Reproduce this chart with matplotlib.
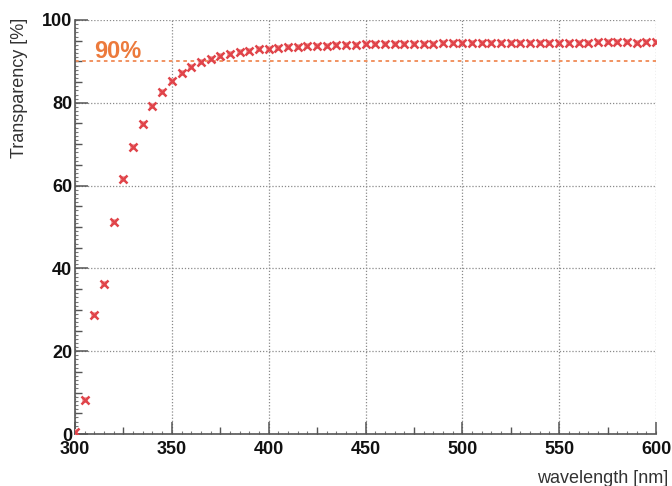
import matplotlib
matplotlib.use("Agg")
import matplotlib.pyplot as plt
from matplotlib.ticker import MultipleLocator

plt.rcParams['font.family'] = ['Liberation Sans', 'DejaVu Sans']

wavelength = list(range(300, 601, 5))
transparency = [
    0.5, 8.1, 28.7, 36.2, 51.2, 61.6, 69.4, 74.8, 79.2, 82.6,
    85.2, 87.3, 88.6, 89.8, 90.6, 91.2, 91.8, 92.2, 92.6, 92.9,
    93.1, 93.3, 93.4, 93.5, 93.7, 93.8, 93.8, 93.9, 93.9, 94.0,
    94.1, 94.1, 94.2, 94.2, 94.2, 94.3, 94.3, 94.3, 94.4, 94.4,
    94.4, 94.4, 94.4, 94.4, 94.5, 94.5, 94.5, 94.5, 94.5, 94.5,
    94.5, 94.5, 94.5, 94.5, 94.6, 94.6, 94.6, 94.6, 94.5, 94.6,
    94.6,
]
threshold = 90
threshold_label = "90%"
x_ticks = [300, 350, 400, 450, 500, 550, 600]
y_ticks = [0, 20, 40, 60, 80, 100]

fig = plt.figure(figsize=(6.72, 4.86), dpi=100)
ax = fig.add_axes([75/672, 52/486, 581/672, 414/486])

ax.set_xlim(300, 600)
ax.set_ylim(0, 100)

ax.grid(True, which='major', color='#8a8a8a', linestyle=(0, (1, 1.5)), linewidth=0.9)
ax.set_axisbelow(True)

ax.axhline(threshold, color='#f08a55', linestyle=(0, (2.0, 2.0)), linewidth=1.3, zorder=2)
ax.text(310, threshold + 0.9, threshold_label, color='#ec7a3c', fontsize=17,
        fontweight='bold', ha='left', va='baseline', zorder=3)

ax.plot(wavelength, transparency, linestyle='none', marker='s', markersize=5,
        color='#f4b0b0', markeredgewidth=0, zorder=3)
ax.plot(wavelength, transparency, linestyle='none', marker='x', markersize=5.5,
        markeredgewidth=1.8, color='#e0444a', zorder=4)

ax.set_xticks(x_ticks)
ax.set_yticks(y_ticks)
ax.xaxis.set_minor_locator(MultipleLocator(25))
ax.yaxis.set_minor_locator(MultipleLocator(5))

for s in ['top', 'right']:
    ax.spines[s].set_visible(False)
for s in ['left', 'bottom']:
    ax.spines[s].set_color('#555555')
    ax.spines[s].set_linewidth(1.2)

ax.tick_params(axis='both', which='major', direction='in', length=9, width=1.1,
               color='#555555', labelsize=13, labelcolor='#111111')
ax.tick_params(axis='both', which='minor', direction='in', length=5, width=1.0,
               color='#555555')
ax.tick_params(axis='y', which='major', pad=2)
ax.tick_params(axis='x', which='major', pad=5)
for lab in ax.get_xticklabels() + ax.get_yticklabels():
    lab.set_fontweight('bold')

# fine ticks along the axes
sy = ax.secondary_yaxis('left')
sy.set_yticks([])
sy.yaxis.set_minor_locator(MultipleLocator(1))
sy.tick_params(which='minor', direction='in', length=2.5, width=0.8, color='#777777')
sy.spines['left'].set_visible(False)
sx = ax.secondary_xaxis('bottom')
sx.set_xticks([])
sx.xaxis.set_minor_locator(MultipleLocator(5))
sx.tick_params(which='minor', direction='in', length=2.5, width=0.8, color='#777777')
sx.spines['bottom'].set_visible(False)

fig.text(20/672, 1 - 18/486, "Transparency [%]", rotation=90, ha='center', va='top',
         fontsize=13, color='#333333')
fig.text(668/672, 1 - 478/486, "wavelength [nm]", ha='right', va='center',
         fontsize=13, color='#333333')

fig.savefig("out.png", dpi=100)
